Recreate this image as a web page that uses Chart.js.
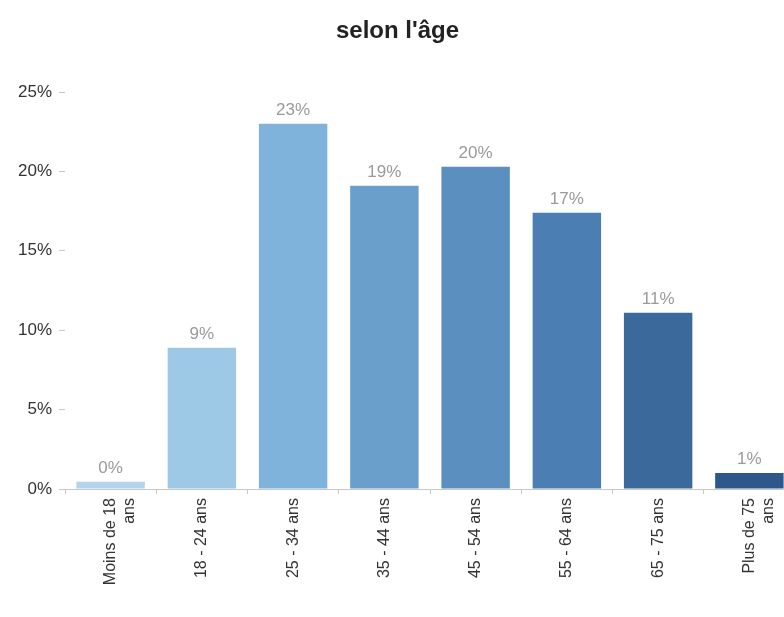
<!DOCTYPE html>
<html>
<head>
<meta charset="utf-8">
<script src="https://cdn.jsdelivr.net/npm/chart.js@4"></script>
<style>
  html, body { margin: 0; padding: 0; background: #fff; }
  body { width: 784px; height: 617px; overflow: hidden; }
  #wrap { width: 795px; height: 617px; }
</style>
</head>
<body>
<div id="wrap"><canvas id="ageChart" width="795" height="617"></canvas></div>
<script>
const titleText = "selon l'âge";
const categories = [
    ["Moins de 18", "ans"],
    "18 - 24 ans",
    "25 - 34 ans",
    "35 - 44 ans",
    "45 - 54 ans",
    "55 - 64 ans",
    "65 - 75 ans",
    ["Plus de 75", "ans"]
];
const shares = [0.45, 8.9, 23.0, 19.1, 20.3, 17.4, 11.1, 1.0];
const barColors = ["#b4d3ec", "#9ec9e6", "#80b3dc", "#6a9fcb", "#5a8fc0", "#4b7eb2", "#3c699b", "#2e588c"];
const yTicks = [0, 5, 10, 15, 20, 25];

const FONT = "'Liberation Sans', Arial, sans-serif";

// petites étiquettes au-dessus des barres
const valueLabels = {
    id: "valueLabels",
    afterDatasetsDraw(chart) {
        const ctx = chart.ctx;
        const meta = chart.getDatasetMeta(0);
        ctx.save();
        ctx.font = "17px " + FONT;
        ctx.fillStyle = "#9a9a9a";
        ctx.textAlign = "center";
        ctx.textBaseline = "bottom";
        meta.data.forEach((bar, i) => {
            ctx.fillText(Math.round(shares[i]) + "%", bar.x, bar.y - 5);
        });
        ctx.restore();
    }
};

new Chart(document.getElementById("ageChart"), {
    type: "bar",
    data: {
        labels: categories,
        datasets: [{
            data: shares,
            backgroundColor: barColors,
            borderWidth: 0,
            categoryPercentage: 0.75,
            barPercentage: 1.0
        }]
    },
    options: {
        responsive: false,
        animation: false,
        layout: { padding: { left: 0, right: 0, top: 0, bottom: 0 } },
        plugins: {
            legend: { display: false },
            tooltip: { enabled: false },
            title: {
                display: true,
                text: titleText,
                color: "#222",
                font: { family: FONT, size: 24, weight: "bold", lineHeight: 1.0 },
                padding: { top: 19, bottom: 49 }
            }
        },
        scales: {
            x: {
                grid: {
                    display: true,
                    offset: true,
                    drawOnChartArea: false,
                    drawTicks: true,
                    tickLength: 5,
                    tickColor: "#c8c8c8"
                },
                border: { display: true, color: "#c8c8c8", dash: [2, 2] },
                ticks: {
                    color: "#333",
                    font: { family: FONT, size: 16 },
                    minRotation: 90,
                    maxRotation: 90,
                    autoSkip: false,
                    padding: 4
                },
                afterFit(scale) { scale.height = 128; }
            },
            y: {
                min: 0,
                max: 25,
                afterBuildTicks(scale) {
                    scale.ticks = yTicks.map(v => ({ value: v }));
                },
                grid: {
                    display: true,
                    drawOnChartArea: false,
                    drawTicks: true,
                    tickLength: 6,
                    tickColor: "#c8c8c8"
                },
                border: { display: false },
                ticks: {
                    color: "#333",
                    font: { family: FONT, size: 17 },
                    padding: 7,
                    callback: v => v + "%"
                },
                afterFit(scale) { scale.width = 65; }
            }
        }
    },
    plugins: [valueLabels]
});
</script>
</body>
</html>
